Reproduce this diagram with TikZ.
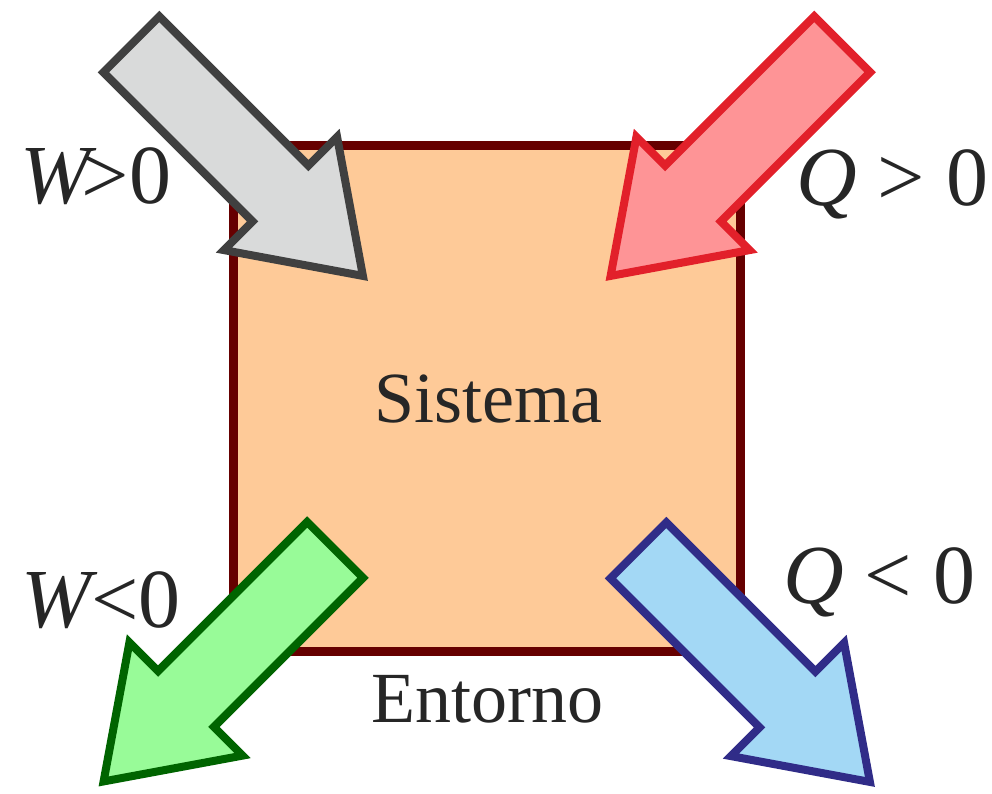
\documentclass[tikz,border=0pt]{standalone}
\usepackage{fontspec}
\setmainfont{Liberation Serif}
\definecolor{sysfill}{HTML}{FECA98}
\definecolor{sysline}{HTML}{660000}
\definecolor{grayfill}{HTML}{D9DADA}
\definecolor{grayline}{HTML}{404040}
\definecolor{redfill}{HTML}{FE9496}
\definecolor{redline}{HTML}{E2202A}
\definecolor{greenfill}{HTML}{98FB98}
\definecolor{greenline}{HTML}{006400}
\definecolor{bluefill}{HTML}{A3D8F5}
\definecolor{blueline}{HTML}{302C88}
\definecolor{txt}{HTML}{262626}
\tikzset{
  bigarrow/.style={line width=8pt, line join=miter, miter limit=10},
  lbl/.style={anchor=base west, inner sep=0pt, text=txt, font=\fontsize{84}{90}\selectfont},
  ctxt/.style={anchor=base, inner sep=0pt, text=txt, font=\fontsize{72}{80}\selectfont}
}
\newcommand{\arrowpath}{(4,39.5) -- (215,39.5) -- (215,80) -- (331.5,0) -- (215,-80) -- (215,-39.5) -- (4,-39.5) -- cycle}
\begin{document}
\begin{tikzpicture}[x=1pt,y=-1pt]
\useasboundingbox (0,0) rectangle (992,793);
% system box
\draw[line width=9pt, draw=sysline, fill=sysfill] (233,145.5) rectangle (740,651);
\node[ctxt] (sis) at (488,422) {Sistema};
\node[ctxt] (ent) at (487,722) {Entorno};
% arrows
\begin{scope}[shift={(128.5,41.5)}, rotate=-45]
  \draw[bigarrow, draw=grayline, fill=grayfill] \arrowpath;
\end{scope}
\begin{scope}[shift={(845,41.5)}, rotate=-135]
  \draw[bigarrow, draw=redline, fill=redfill] \arrowpath;
\end{scope}
\begin{scope}[shift={(338,547)}, rotate=-135]
  \draw[bigarrow, draw=greenline, fill=greenfill] \arrowpath;
\end{scope}
\begin{scope}[shift={(635.5,547.5)}, rotate=-45]
  \draw[bigarrow, draw=blueline, fill=bluefill] \arrowpath;
\end{scope}
% labels
\node[lbl] (wpos) at (20,203) {\itshape W\upshape\kern-0.1em>0};
\node[lbl] (qpos) at (796,205) {\itshape Q\upshape{} > 0};
\node[lbl] (wneg) at (21,627) {\itshape W\upshape <0};
\node[lbl] (qneg) at (783,603) {\itshape Q\upshape{} < 0};
\end{tikzpicture}
\end{document}
